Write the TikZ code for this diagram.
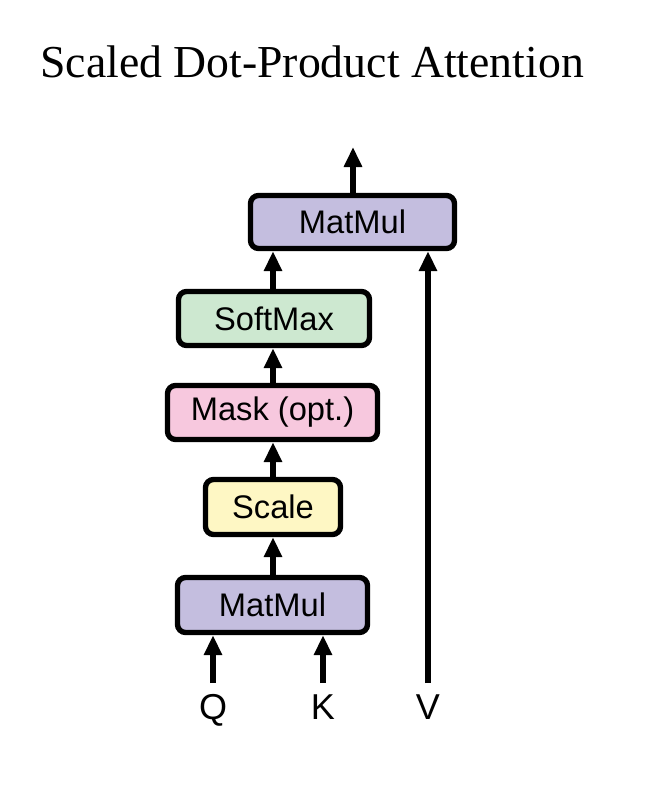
\documentclass[tikz,border=0pt]{standalone}
\usepackage{fontspec}
\setmainfont{Liberation Serif}
\newfontfamily\boxfont{Liberation Sans}
\usetikzlibrary{arrows.meta}
\definecolor{mmcol}{RGB}{196,190,223}
\definecolor{smcol}{RGB}{205,232,208}
\definecolor{mkcol}{RGB}{247,200,222}
\definecolor{sccol}{RGB}{254,247,196}
\begin{document}
\begin{tikzpicture}[x=0.75pt,y=-0.75pt,
  opbox/.style={draw=black, line width=4pt, rounded corners=6pt, inner sep=0pt,
    font=\boxfont\fontsize{24.5pt}{28pt}\selectfont},
  flow/.style={line width=4pt, -{Triangle[width=13pt,length=15pt]}},
  lbl/.style={inner sep=0pt, anchor=base, font=\boxfont\fontsize{27pt}{30pt}\selectfont}]
\useasboundingbox (0,0) rectangle (670,790);
\node[anchor=base west, inner sep=0pt, font=\fontsize{34.3pt}{40pt}\selectfont] (title) at (40,77) {Scaled Dot-Product Attention};
\node[opbox, fill=mmcol, minimum width=204*0.75pt, minimum height=53*0.75pt] (mm2) at (352.5,222) {MatMul};
\node[opbox, fill=smcol, minimum width=191*0.75pt, minimum height=54*0.75pt] (sm) at (274,318.5) {SoftMax};
\node[opbox, fill=mkcol, minimum width=210*0.75pt, minimum height=54*0.75pt] (mk) at (272.5,412.5) {Mask (opt.)};
\node[opbox, fill=sccol, minimum width=135*0.75pt, minimum height=55*0.75pt] (sc) at (273,507) {Scale};
\node[opbox, fill=mmcol, minimum width=190*0.75pt, minimum height=55*0.75pt] (mm1) at (272.5,605) {MatMul};
\node[lbl] (q) at (213,719) {Q};
\node[lbl] (k) at (323,719) {K};
\node[lbl] (v) at (428,719) {V};
\coordinate (qs) at (213,683);
\coordinate (ks) at (323,683);
\coordinate (vs) at (428,683);
\coordinate (out) at (353,147);
\draw[flow] (qs) -- (qs |- mm1.south);
\draw[flow] (ks) -- (ks |- mm1.south);
\draw[flow] (vs) -- (vs |- mm2.south);
\draw[flow] (mm1.north -| sc.south) -- (sc.south);
\draw[flow] (sc.north) -- (sc.north |- mk.south);
\draw[flow] (mk.north -| sc.north) -- (sc.north |- sm.south);
\draw[flow] (sm.north -| sc.north) -- (sc.north |- mm2.south);
\draw[flow] (out |- mm2.north) -- (out);
\end{tikzpicture}
\end{document}
